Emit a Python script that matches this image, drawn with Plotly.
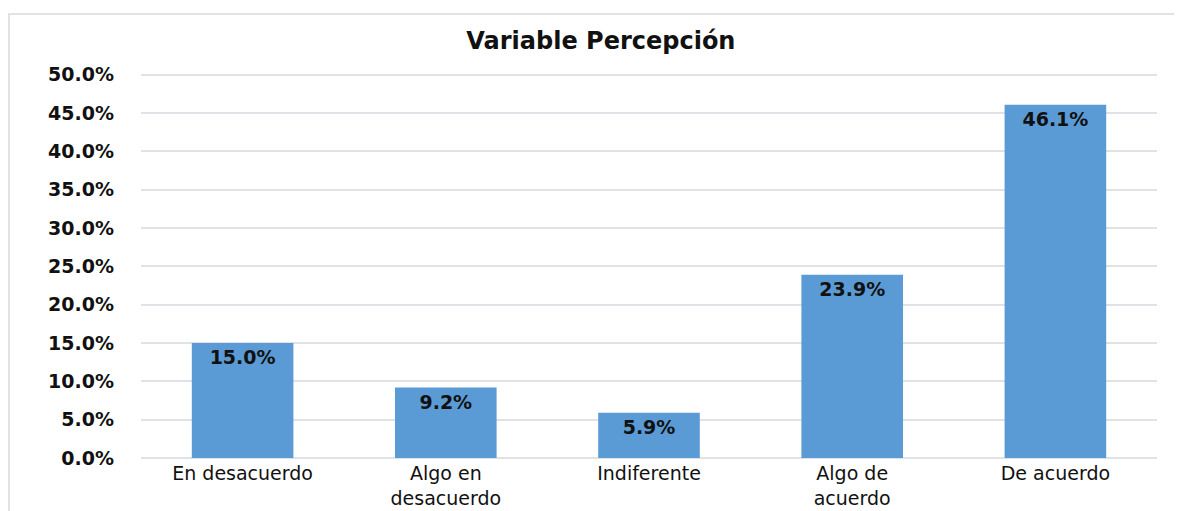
import plotly.graph_objects as go

categories = ["En desacuerdo", "Algo en<br>desacuerdo", "Indiferente", "Algo de<br>acuerdo", "De acuerdo"]
values = [15.0, 9.2, 5.9, 23.9, 46.1]
tick_vals = [0, 5, 10, 15, 20, 25, 30, 35, 40, 45, 50]
tick_text = [f"{v:.1f}%" for v in tick_vals]
labels = [f"{v:.1f}%" for v in values]

FONT = "DejaVu Sans"

fig = go.Figure(go.Bar(
    x=categories, y=values, text=labels,
    textposition="inside", insidetextanchor="end",
    textfont=dict(family=FONT, size=19, color="#111111", weight="bold"),
    marker=dict(color="#5b9bd5", line=dict(width=0)),
    width=0.5,
))

fig.update_layout(
    width=1174, height=503,
    margin=dict(l=133, r=25, t=63, b=53),
    paper_bgcolor="white", plot_bgcolor="white",
    showlegend=False,
    title=dict(text="Variable Percepción", x=0.505, xanchor="center", xref="container",
               y=0.936, yanchor="middle",
               font=dict(family=FONT, size=24, color="#111111", weight="bold")),
    xaxis=dict(tickfont=dict(family=FONT, size=19, color="#111111"), showgrid=False,
               showline=False, ticks="", automargin=False, ticklabelstandoff=2),
    yaxis=dict(range=[0, 50.5], tickvals=tick_vals, ticktext=tick_text,
               tickfont=dict(family=FONT, size=19, color="#111111", weight="bold"),
               showgrid=True, gridcolor="#dfe2e6", gridwidth=1.5,
               zeroline=True, zerolinecolor="#dfe2e6", zerolinewidth=1.5,
               ticklabelstandoff=26, fixedrange=True, automargin=False),
    uniformtext=dict(mode=False),
)

fig.add_shape(type="rect", xref="paper", yref="paper",
              x0=-0.1299, x1=1.2, y0=-0.3, y1=1.147,
              line=dict(color="#dfe2e6", width=2), fillcolor="rgba(0,0,0,0)", layer="below")

fig.write_html("out.html")
